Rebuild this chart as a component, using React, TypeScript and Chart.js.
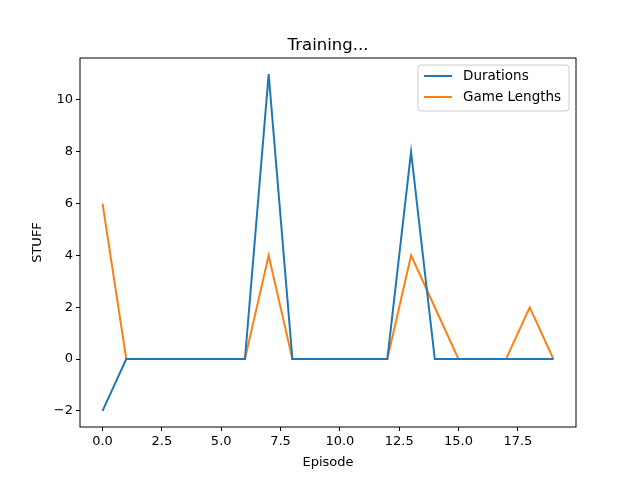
import { useEffect, useRef } from 'react';
import { Chart, registerables } from 'chart.js';

Chart.register(...registerables);

const episodes = [0, 1, 2, 3, 4, 5, 6, 7, 8, 9, 10, 11, 12, 13, 14, 15, 16, 17, 18, 19];
const durations = [-2, 0, 0, 0, 0, 0, 0, 11, 0, 0, 0, 0, 0, 8, 0, 0, 0, 0, 0, 0];
const gameLengths = [6, 0, 0, 0, 0, 0, 0, 4, 0, 0, 0, 0, 0, 4, 2, 0, 0, 0, 2, 0];
const xTicks = [0, 2.5, 5, 7.5, 10, 12.5, 15, 17.5];
const yTicks = [-2, 0, 2, 4, 6, 8, 10];
const seriesNames = ['Durations', 'Game Lengths'];
const colors = ['#1f77b4', '#ff7f0e'];

const FONT = 'DejaVu Sans';

const fmt = (v: number) => (v < 0 ? '\u2212' + String(-v) : String(v));
const fmtX = (v: number) => (Number.isInteger(v) ? v + '.0' : String(v));

const decorPlugin = {
  id: 'decor',
  afterDraw(chart: Chart) {
    const { ctx, chartArea: a } = chart;
    ctx.save();
    ctx.strokeStyle = '#000';
    ctx.lineWidth = 1;
    ctx.strokeRect(a.left, a.top, a.right - a.left, a.bottom - a.top);
    ctx.fillStyle = '#000';
    ctx.textAlign = 'center';
    ctx.textBaseline = 'alphabetic';
    ctx.font = `16.5px ${FONT}`;
    ctx.fillText('Training...', (a.left + a.right) / 2, 50);
    ctx.font = `13px ${FONT}`;
    ctx.fillText('Episode', (a.left + a.right) / 2, 466);
    ctx.save();
    ctx.translate(41, (a.top + a.bottom) / 2);
    ctx.rotate(-Math.PI / 2);
    ctx.fillText('STUFF', 0, 0);
    ctx.restore();
    // legend
    const lx = 418, ly = 65, lw = 151, lh = 46;
    ctx.fillStyle = 'rgba(255,255,255,0.8)';
    ctx.strokeStyle = '#cccccc';
    ctx.beginPath();
    ctx.roundRect(lx, ly, lw, lh, 3);
    ctx.fill();
    ctx.stroke();
    ctx.textAlign = 'left';
    ctx.textBaseline = 'middle';
    ctx.font = `13.5px ${FONT}`;
    seriesNames.forEach((n, i) => {
      const y = ly + 11 + i * 21;
      ctx.strokeStyle = colors[i];
      ctx.lineWidth = 2;
      ctx.beginPath();
      ctx.moveTo(lx + 6, y);
      ctx.lineTo(lx + 34, y);
      ctx.stroke();
      ctx.fillStyle = '#000';
      ctx.fillText(n, lx + 45, y);
    });
    ctx.restore();
  },
};

const App = () => {
  const chartRef = useRef<HTMLCanvasElement>(null);

  useEffect(() => {
    if (!chartRef.current) return;
    const chart = new Chart(chartRef.current, {
      type: 'line',
      data: {
        datasets: [durations, gameLengths].map((s, i) => ({
          label: seriesNames[i],
          data: s.map((v, j) => ({ x: episodes[j], y: v })),
          borderColor: colors[i],
          borderWidth: 2,
          pointRadius: 0,
          tension: 0,
          fill: false,
        })),
      },
      options: {
        animation: false,
        responsive: false,
        layout: { padding: { top: 58, right: 64, left: 0, bottom: 0 } },
        plugins: { legend: { display: false }, title: { display: false }, tooltip: { enabled: false } },
        scales: {
          x: {
            type: 'linear',
            min: -0.95,
            max: 19.95,
            afterFit: (s: any) => { s.height = 53; },
            afterBuildTicks: (s: any) => { s.ticks = xTicks.map(v => ({ value: v })); },
            grid: { drawOnChartArea: false, tickLength: 4, tickColor: '#000' },
            border: { display: false },
            ticks: { color: '#000', font: { family: FONT, size: 13 }, padding: 3, maxRotation: 0, callback: (v: any) => fmtX(Number(v)) },
          },
          y: {
            type: 'linear',
            min: -2.62,
            max: 11.62,
            afterFit: (s: any) => { s.width = 80; },
            afterBuildTicks: (s: any) => { s.ticks = yTicks.map(v => ({ value: v })); },
            grid: { drawOnChartArea: false, tickLength: 4, tickColor: '#000' },
            border: { display: false },
            ticks: { color: '#000', font: { family: FONT, size: 13 }, padding: 3, callback: (v: any) => fmt(Number(v)) },
          },
        },
      },
      plugins: [decorPlugin],
    });
    return () => chart.destroy();
  }, []);

  return (
    <div style={{ position: 'absolute', left: 0, top: 0, width: 640, height: 480, background: '#fff' }}>
      <canvas ref={chartRef} width={640} height={480} />
    </div>
  );
};

export default App;
